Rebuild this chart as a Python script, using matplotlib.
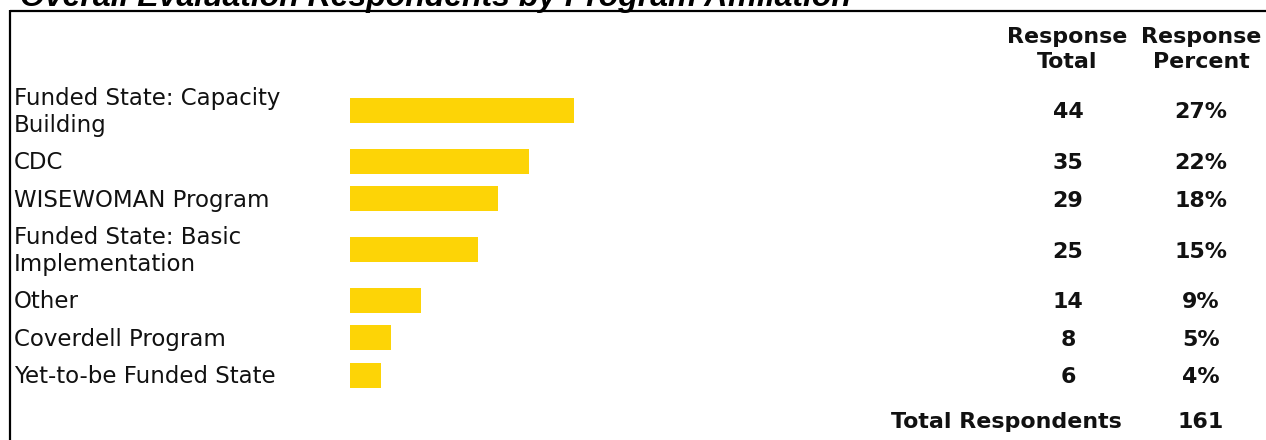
import matplotlib.pyplot as plt

# data
title = "Overall Evaluation Respondents by Program Affiliation"
labels = ["Funded State: Capacity\nBuilding", "CDC", "WISEWOMAN Program",
          "Funded State: Basic\nImplementation", "Other", "Coverdell Program",
          "Yet-to-be Funded State"]
totals = [44, 35, 29, 25, 14, 8, 6]
percents = ["27%", "22%", "18%", "15%", "9%", "5%", "4%"]
respondents = 161

W, H = 1266, 440
fig = plt.figure(figsize=(W / 100, H / 100), dpi=100)

# bar axes: x in respondents, y in pixel rows
bx = fig.add_axes([350 / W, 0, 500 / W, 1])
bx.set_xlim(0, 500 / 5.1)
bx.set_ylim(H, 0)
bx.axis('off')

# overlay axes for the table text, in pixel units
ax = fig.add_axes([0, 0, 1, 1], facecolor='none')
ax.set_xlim(0, W)
ax.set_ylim(H, 0)
ax.axis('off')

# row layout: taller rows for two-line labels
centers = []
top = 78.5
for lab in labels:
    n = lab.count('\n') + 1
    h = 37.5 + 26.5 * (n - 1)
    centers.append(top + h / 2)
    top += h

bx.barh(centers, totals, height=25, color='#FDD406')

label_font = dict(family='DejaVu Sans', fontsize=16.5, color='#111111')
bold_font = dict(family='DejaVu Sans', fontsize=15.9, weight='bold', color='#111111')

for lab, c, t, p in zip(labels, centers, totals, percents):
    lines = lab.split('\n')
    n = len(lines)
    for j, line in enumerate(lines):
        y = c + 8 + (j - (n - 1) / 2) * 27.7
        ax.text(14, y, line, ha='left', va='baseline', **label_font)
    ax.text(1068, c + 8, str(t), ha='center', va='baseline', **bold_font)
    ax.text(1201, c + 8, p, ha='center', va='baseline', **bold_font)

# column headers
ax.text(1067, 43.3, "Response", ha='center', va='baseline', **bold_font)
ax.text(1067, 68.3, "Total", ha='center', va='baseline', **bold_font)
ax.text(1201, 43.3, "Response", ha='center', va='baseline', **bold_font)
ax.text(1201, 68.3, "Percent", ha='center', va='baseline', **bold_font)

# total row
c_tot = top + 26.5
ax.text(1122, c_tot + 8, "Total Respondents", ha='right', va='baseline', **bold_font)
ax.text(1201, c_tot + 8, str(respondents), ha='center', va='baseline', **bold_font)

# title, cut off at the top like the reference
ax.text(20, 6, title, ha='left', va='baseline', family='Liberation Sans',
        fontsize=23, weight='bold', style='italic', color='black')

# frame lines (top and left)
ax.plot([10, W], [11, 11], color='black', lw=1.6, solid_capstyle='butt')
ax.plot([10, 10], [10, H], color='black', lw=1.6, solid_capstyle='butt')

fig.savefig('out.png', dpi=100)
